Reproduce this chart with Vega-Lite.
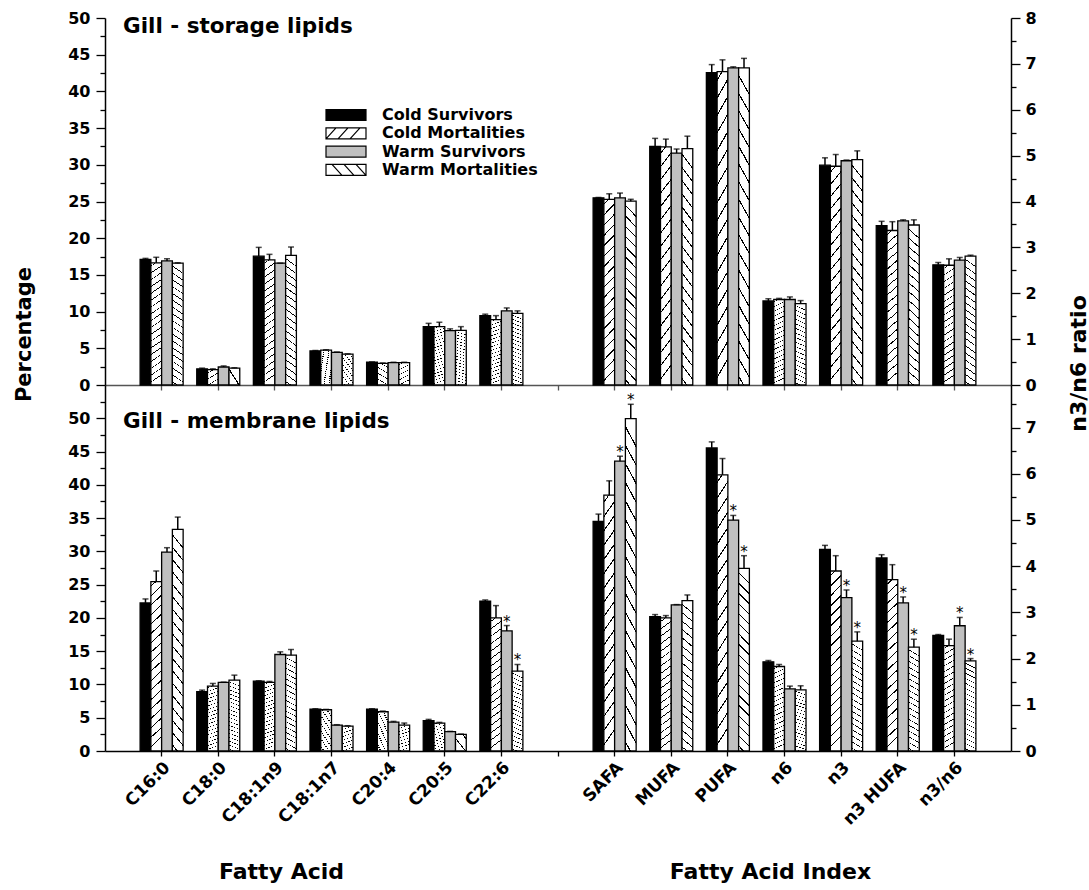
{
"$schema":"https://vega.github.io/schema/vega-lite/v6.json",
"padding":{"left":13,"top":10,"right":0,"bottom":5},
"config":{
 "font":"DejaVu Sans",
 "view":{"stroke":null},
 "axis":{"labelFont":"DejaVu Sans","labelFontWeight":"bold","labelFontSize":16,"labelColor":"#000","titleFont":"DejaVu Sans","titleFontWeight":"bold","titleColor":"#000","domainColor":"#000","domainWidth":1.5,"tickColor":"#000","tickWidth":1.3,"grid":false,"labelOverlap":false},
 "title":{"font":"DejaVu Sans","fontSize":21.5,"fontWeight":"bold","color":"#000","anchor":"start","frame":"group"}
},
"data":{"values":[
{"panel":"storage","cat":"C16:0","group":"Cold Survivors","mean":17.1,"hi":17.25,"sig":""},
{"panel":"storage","cat":"C16:0","group":"Cold Mortalities","mean":16.65,"hi":17.4,"sig":""},
{"panel":"storage","cat":"C16:0","group":"Warm Survivors","mean":16.9,"hi":17.2,"sig":""},
{"panel":"storage","cat":"C16:0","group":"Warm Mortalities","mean":16.6,"hi":16.65,"sig":""},
{"panel":"storage","cat":"C18:0","group":"Cold Survivors","mean":2.2,"hi":2.3,"sig":""},
{"panel":"storage","cat":"C18:0","group":"Cold Mortalities","mean":2.1,"hi":2.2,"sig":""},
{"panel":"storage","cat":"C18:0","group":"Warm Survivors","mean":2.45,"hi":2.6,"sig":""},
{"panel":"storage","cat":"C18:0","group":"Warm Mortalities","mean":2.3,"hi":2.35,"sig":""},
{"panel":"storage","cat":"C18:1n9","group":"Cold Survivors","mean":17.55,"hi":18.75,"sig":""},
{"panel":"storage","cat":"C18:1n9","group":"Cold Mortalities","mean":17.05,"hi":17.8,"sig":""},
{"panel":"storage","cat":"C18:1n9","group":"Warm Survivors","mean":16.6,"hi":16.6,"sig":""},
{"panel":"storage","cat":"C18:1n9","group":"Warm Mortalities","mean":17.65,"hi":18.8,"sig":""},
{"panel":"storage","cat":"C18:1n7","group":"Cold Survivors","mean":4.65,"hi":4.7,"sig":""},
{"panel":"storage","cat":"C18:1n7","group":"Cold Mortalities","mean":4.75,"hi":4.8,"sig":""},
{"panel":"storage","cat":"C18:1n7","group":"Warm Survivors","mean":4.45,"hi":4.5,"sig":""},
{"panel":"storage","cat":"C18:1n7","group":"Warm Mortalities","mean":4.2,"hi":4.25,"sig":""},
{"panel":"storage","cat":"C20:4","group":"Cold Survivors","mean":3.1,"hi":3.15,"sig":""},
{"panel":"storage","cat":"C20:4","group":"Cold Mortalities","mean":2.95,"hi":3.0,"sig":""},
{"panel":"storage","cat":"C20:4","group":"Warm Survivors","mean":3.05,"hi":3.1,"sig":""},
{"panel":"storage","cat":"C20:4","group":"Warm Mortalities","mean":3.05,"hi":3.1,"sig":""},
{"panel":"storage","cat":"C20:5","group":"Cold Survivors","mean":7.95,"hi":8.4,"sig":""},
{"panel":"storage","cat":"C20:5","group":"Cold Mortalities","mean":7.95,"hi":8.55,"sig":""},
{"panel":"storage","cat":"C20:5","group":"Warm Survivors","mean":7.4,"hi":7.65,"sig":""},
{"panel":"storage","cat":"C20:5","group":"Warm Mortalities","mean":7.45,"hi":7.95,"sig":""},
{"panel":"storage","cat":"C22:6","group":"Cold Survivors","mean":9.45,"hi":9.65,"sig":""},
{"panel":"storage","cat":"C22:6","group":"Cold Mortalities","mean":8.9,"hi":9.45,"sig":""},
{"panel":"storage","cat":"C22:6","group":"Warm Survivors","mean":10.1,"hi":10.5,"sig":""},
{"panel":"storage","cat":"C22:6","group":"Warm Mortalities","mean":9.75,"hi":10.1,"sig":""},
{"panel":"storage","cat":"SAFA","group":"Cold Survivors","mean":25.5,"hi":25.55,"sig":""},
{"panel":"storage","cat":"SAFA","group":"Cold Mortalities","mean":25.3,"hi":26.05,"sig":""},
{"panel":"storage","cat":"SAFA","group":"Warm Survivors","mean":25.5,"hi":26.15,"sig":""},
{"panel":"storage","cat":"SAFA","group":"Warm Mortalities","mean":25.05,"hi":25.3,"sig":""},
{"panel":"storage","cat":"MUFA","group":"Cold Survivors","mean":32.5,"hi":33.6,"sig":""},
{"panel":"storage","cat":"MUFA","group":"Cold Mortalities","mean":32.45,"hi":33.5,"sig":""},
{"panel":"storage","cat":"MUFA","group":"Warm Survivors","mean":31.6,"hi":32.15,"sig":""},
{"panel":"storage","cat":"MUFA","group":"Warm Mortalities","mean":32.2,"hi":33.9,"sig":""},
{"panel":"storage","cat":"PUFA","group":"Cold Survivors","mean":42.55,"hi":43.65,"sig":""},
{"panel":"storage","cat":"PUFA","group":"Cold Mortalities","mean":42.7,"hi":44.3,"sig":""},
{"panel":"storage","cat":"PUFA","group":"Warm Survivors","mean":43.2,"hi":43.35,"sig":""},
{"panel":"storage","cat":"PUFA","group":"Warm Mortalities","mean":43.2,"hi":44.5,"sig":""},
{"panel":"storage","cat":"n6","group":"Cold Survivors","mean":11.45,"hi":11.75,"sig":""},
{"panel":"storage","cat":"n6","group":"Cold Mortalities","mean":11.65,"hi":11.8,"sig":""},
{"panel":"storage","cat":"n6","group":"Warm Survivors","mean":11.65,"hi":12.0,"sig":""},
{"panel":"storage","cat":"n6","group":"Warm Mortalities","mean":11.1,"hi":11.5,"sig":""},
{"panel":"storage","cat":"n3","group":"Cold Survivors","mean":29.95,"hi":30.95,"sig":""},
{"panel":"storage","cat":"n3","group":"Cold Mortalities","mean":29.8,"hi":31.4,"sig":""},
{"panel":"storage","cat":"n3","group":"Warm Survivors","mean":30.55,"hi":30.65,"sig":""},
{"panel":"storage","cat":"n3","group":"Warm Mortalities","mean":30.7,"hi":31.9,"sig":""},
{"panel":"storage","cat":"n3 HUFA","group":"Cold Survivors","mean":21.7,"hi":22.3,"sig":""},
{"panel":"storage","cat":"n3 HUFA","group":"Cold Mortalities","mean":21.05,"hi":22.25,"sig":""},
{"panel":"storage","cat":"n3 HUFA","group":"Warm Survivors","mean":22.35,"hi":22.5,"sig":""},
{"panel":"storage","cat":"n3 HUFA","group":"Warm Mortalities","mean":21.8,"hi":22.5,"sig":""},
{"panel":"storage","cat":"n3/n6","group":"Cold Survivors","mean":2.62,"hi":2.67,"sig":""},
{"panel":"storage","cat":"n3/n6","group":"Cold Mortalities","mean":2.61,"hi":2.75,"sig":""},
{"panel":"storage","cat":"n3/n6","group":"Warm Survivors","mean":2.72,"hi":2.78,"sig":""},
{"panel":"storage","cat":"n3/n6","group":"Warm Mortalities","mean":2.81,"hi":2.83,"sig":""},
{"panel":"membrane","cat":"C16:0","group":"Cold Survivors","mean":22.25,"hi":22.85,"sig":""},
{"panel":"membrane","cat":"C16:0","group":"Cold Mortalities","mean":25.45,"hi":27.05,"sig":""},
{"panel":"membrane","cat":"C16:0","group":"Warm Survivors","mean":29.9,"hi":30.55,"sig":""},
{"panel":"membrane","cat":"C16:0","group":"Warm Mortalities","mean":33.3,"hi":35.15,"sig":""},
{"panel":"membrane","cat":"C18:0","group":"Cold Survivors","mean":8.9,"hi":9.15,"sig":""},
{"panel":"membrane","cat":"C18:0","group":"Cold Mortalities","mean":9.75,"hi":10.15,"sig":""},
{"panel":"membrane","cat":"C18:0","group":"Warm Survivors","mean":10.3,"hi":10.35,"sig":""},
{"panel":"membrane","cat":"C18:0","group":"Warm Mortalities","mean":10.65,"hi":11.4,"sig":""},
{"panel":"membrane","cat":"C18:1n9","group":"Cold Survivors","mean":10.5,"hi":10.55,"sig":""},
{"panel":"membrane","cat":"C18:1n9","group":"Cold Mortalities","mean":10.3,"hi":10.45,"sig":""},
{"panel":"membrane","cat":"C18:1n9","group":"Warm Survivors","mean":14.5,"hi":14.9,"sig":""},
{"panel":"membrane","cat":"C18:1n9","group":"Warm Mortalities","mean":14.4,"hi":15.25,"sig":""},
{"panel":"membrane","cat":"C18:1n7","group":"Cold Survivors","mean":6.3,"hi":6.35,"sig":""},
{"panel":"membrane","cat":"C18:1n7","group":"Cold Mortalities","mean":6.2,"hi":6.25,"sig":""},
{"panel":"membrane","cat":"C18:1n7","group":"Warm Survivors","mean":3.9,"hi":3.95,"sig":""},
{"panel":"membrane","cat":"C18:1n7","group":"Warm Mortalities","mean":3.75,"hi":3.8,"sig":""},
{"panel":"membrane","cat":"C20:4","group":"Cold Survivors","mean":6.3,"hi":6.35,"sig":""},
{"panel":"membrane","cat":"C20:4","group":"Cold Mortalities","mean":5.9,"hi":6.0,"sig":""},
{"panel":"membrane","cat":"C20:4","group":"Warm Survivors","mean":4.35,"hi":4.45,"sig":""},
{"panel":"membrane","cat":"C20:4","group":"Warm Mortalities","mean":3.9,"hi":4.2,"sig":""},
{"panel":"membrane","cat":"C20:5","group":"Cold Survivors","mean":4.55,"hi":4.75,"sig":""},
{"panel":"membrane","cat":"C20:5","group":"Cold Mortalities","mean":4.2,"hi":4.3,"sig":""},
{"panel":"membrane","cat":"C20:5","group":"Warm Survivors","mean":2.9,"hi":2.95,"sig":""},
{"panel":"membrane","cat":"C20:5","group":"Warm Mortalities","mean":2.5,"hi":2.55,"sig":""},
{"panel":"membrane","cat":"C22:6","group":"Cold Survivors","mean":22.5,"hi":22.7,"sig":""},
{"panel":"membrane","cat":"C22:6","group":"Cold Mortalities","mean":20.0,"hi":21.85,"sig":""},
{"panel":"membrane","cat":"C22:6","group":"Warm Survivors","mean":18.05,"hi":18.85,"sig":"*"},
{"panel":"membrane","cat":"C22:6","group":"Warm Mortalities","mean":12.0,"hi":13.0,"sig":"*"},
{"panel":"membrane","cat":"SAFA","group":"Cold Survivors","mean":34.5,"hi":35.6,"sig":""},
{"panel":"membrane","cat":"SAFA","group":"Cold Mortalities","mean":38.45,"hi":40.6,"sig":""},
{"panel":"membrane","cat":"SAFA","group":"Warm Survivors","mean":43.55,"hi":44.3,"sig":"*"},
{"panel":"membrane","cat":"SAFA","group":"Warm Mortalities","mean":49.95,"hi":52.1,"sig":"*"},
{"panel":"membrane","cat":"MUFA","group":"Cold Survivors","mean":20.2,"hi":20.5,"sig":""},
{"panel":"membrane","cat":"MUFA","group":"Cold Mortalities","mean":20.0,"hi":20.35,"sig":""},
{"panel":"membrane","cat":"MUFA","group":"Warm Survivors","mean":21.95,"hi":22.0,"sig":""},
{"panel":"membrane","cat":"MUFA","group":"Warm Mortalities","mean":22.6,"hi":23.45,"sig":""},
{"panel":"membrane","cat":"PUFA","group":"Cold Survivors","mean":45.55,"hi":46.45,"sig":""},
{"panel":"membrane","cat":"PUFA","group":"Cold Mortalities","mean":41.5,"hi":43.95,"sig":""},
{"panel":"membrane","cat":"PUFA","group":"Warm Survivors","mean":34.7,"hi":35.4,"sig":"*"},
{"panel":"membrane","cat":"PUFA","group":"Warm Mortalities","mean":27.45,"hi":29.35,"sig":"*"},
{"panel":"membrane","cat":"n6","group":"Cold Survivors","mean":13.4,"hi":13.6,"sig":""},
{"panel":"membrane","cat":"n6","group":"Cold Mortalities","mean":12.7,"hi":13.0,"sig":""},
{"panel":"membrane","cat":"n6","group":"Warm Survivors","mean":9.35,"hi":9.75,"sig":""},
{"panel":"membrane","cat":"n6","group":"Warm Mortalities","mean":9.2,"hi":9.8,"sig":""},
{"panel":"membrane","cat":"n3","group":"Cold Survivors","mean":30.3,"hi":30.9,"sig":""},
{"panel":"membrane","cat":"n3","group":"Cold Mortalities","mean":27.05,"hi":29.35,"sig":""},
{"panel":"membrane","cat":"n3","group":"Warm Survivors","mean":23.05,"hi":24.2,"sig":"*"},
{"panel":"membrane","cat":"n3","group":"Warm Mortalities","mean":16.5,"hi":17.9,"sig":"*"},
{"panel":"membrane","cat":"n3 HUFA","group":"Cold Survivors","mean":29.0,"hi":29.5,"sig":""},
{"panel":"membrane","cat":"n3 HUFA","group":"Cold Mortalities","mean":25.75,"hi":28.0,"sig":""},
{"panel":"membrane","cat":"n3 HUFA","group":"Warm Survivors","mean":22.25,"hi":23.15,"sig":"*"},
{"panel":"membrane","cat":"n3 HUFA","group":"Warm Mortalities","mean":15.6,"hi":16.8,"sig":"*"},
{"panel":"membrane","cat":"n3/n6","group":"Cold Survivors","mean":2.5,"hi":2.52,"sig":""},
{"panel":"membrane","cat":"n3/n6","group":"Cold Mortalities","mean":2.28,"hi":2.42,"sig":""},
{"panel":"membrane","cat":"n3/n6","group":"Warm Survivors","mean":2.71,"hi":2.89,"sig":"*"},
{"panel":"membrane","cat":"n3/n6","group":"Warm Mortalities","mean":1.95,"hi":2.0,"sig":"*"}
]},
"spacing":0,
"bounds":"flush",
"resolve":{"legend":{"fill":"independent","shape":"independent","stroke":"independent"}},
"vconcat":[
{
 "width":906,"height":367,
 "title":{"text":"Gill - storage lipids","offset":-27,"dx":18,"baseline":"top"},
 "transform":[{"filter":"datum.panel === 'storage'"}],
 "encoding":{
  "x":{"field":"cat","type":"nominal","scale":{"domain":["C16:0","C18:0","C18:1n9","C18:1n7","C20:4","C20:5","C22:6"," ","SAFA","MUFA","PUFA","n6","n3","n3 HUFA","n3/n6"],"paddingInner":0.24,"paddingOuter":0.62},"axis":{"labels":false,"tickSize":5,"domainColor":"#555555","tickColor":"#555555","title":null,"bandPosition":0.5}},
  "xOffset":{"field":"group","type":"nominal","scale":{"domain":["Cold Survivors","Cold Mortalities","Warm Survivors","Warm Mortalities"],"paddingInner":0,"paddingOuter":0}}
 },
 "layer":[
  {"transform":[{"filter":"datum.cat !== 'n3/n6'"}],
   "layer":[
    {"mark":{"type":"bar","stroke":"#000","strokeWidth":1.3},
     "encoding":{
      "y":{"field":"mean","type":"quantitative","scale":{"domain":[0,50],"nice":false},"axis":{"orient":"left","values":[0,10,20,30,40,50],"tickSize":9,"labelPadding":6,"title":"Percentage","titleFontSize":21,"titleAngle":-90,"titleX":-81,"titleY":316,"titleAlign":"center","titleBaseline":"middle"}},
      "fill":{"condition":[{"test":"datum.group === 'Cold Survivors'","value":"#000000"},{"test":"datum.group === 'Cold Mortalities'","value":{"gradient":"linear","x1":0,"y1":0,"x2":0.06,"y2":1,"stops":[{"offset":0,"color":"#fff"},{"offset":0.024,"color":"#fff"},{"offset":0.024,"color":"#000"},{"offset":0.031,"color":"#000"},{"offset":0.031,"color":"#fff"},{"offset":0.080,"color":"#fff"},{"offset":0.080,"color":"#000"},{"offset":0.087,"color":"#000"},{"offset":0.087,"color":"#fff"},{"offset":0.135,"color":"#fff"},{"offset":0.135,"color":"#000"},{"offset":0.142,"color":"#000"},{"offset":0.142,"color":"#fff"},{"offset":0.191,"color":"#fff"},{"offset":0.191,"color":"#000"},{"offset":0.198,"color":"#000"},{"offset":0.198,"color":"#fff"},{"offset":0.246,"color":"#fff"},{"offset":0.246,"color":"#000"},{"offset":0.254,"color":"#000"},{"offset":0.254,"color":"#fff"},{"offset":0.302,"color":"#fff"},{"offset":0.302,"color":"#000"},{"offset":0.309,"color":"#000"},{"offset":0.309,"color":"#fff"},{"offset":0.358,"color":"#fff"},{"offset":0.358,"color":"#000"},{"offset":0.365,"color":"#000"},{"offset":0.365,"color":"#fff"},{"offset":0.413,"color":"#fff"},{"offset":0.413,"color":"#000"},{"offset":0.420,"color":"#000"},{"offset":0.420,"color":"#fff"},{"offset":0.469,"color":"#fff"},{"offset":0.469,"color":"#000"},{"offset":0.476,"color":"#000"},{"offset":0.476,"color":"#fff"},{"offset":0.524,"color":"#fff"},{"offset":0.524,"color":"#000"},{"offset":0.531,"color":"#000"},{"offset":0.531,"color":"#fff"},{"offset":0.580,"color":"#fff"},{"offset":0.580,"color":"#000"},{"offset":0.587,"color":"#000"},{"offset":0.587,"color":"#fff"},{"offset":0.635,"color":"#fff"},{"offset":0.635,"color":"#000"},{"offset":0.642,"color":"#000"},{"offset":0.642,"color":"#fff"},{"offset":0.691,"color":"#fff"},{"offset":0.691,"color":"#000"},{"offset":0.698,"color":"#000"},{"offset":0.698,"color":"#fff"},{"offset":0.746,"color":"#fff"},{"offset":0.746,"color":"#000"},{"offset":0.754,"color":"#000"},{"offset":0.754,"color":"#fff"},{"offset":0.802,"color":"#fff"},{"offset":0.802,"color":"#000"},{"offset":0.809,"color":"#000"},{"offset":0.809,"color":"#fff"},{"offset":0.858,"color":"#fff"},{"offset":0.858,"color":"#000"},{"offset":0.865,"color":"#000"},{"offset":0.865,"color":"#fff"},{"offset":0.913,"color":"#fff"},{"offset":0.913,"color":"#000"},{"offset":0.920,"color":"#000"},{"offset":0.920,"color":"#fff"},{"offset":0.969,"color":"#fff"},{"offset":0.969,"color":"#000"},{"offset":0.976,"color":"#000"},{"offset":0.976,"color":"#fff"},{"offset":1,"color":"#fff"}]}},{"test":"datum.group === 'Warm Survivors'","value":"#c0c0c0"}],"value":{"gradient":"linear","x1":0.06,"y1":0,"x2":0,"y2":1,"stops":[{"offset":0,"color":"#fff"},{"offset":0.024,"color":"#fff"},{"offset":0.024,"color":"#000"},{"offset":0.031,"color":"#000"},{"offset":0.031,"color":"#fff"},{"offset":0.080,"color":"#fff"},{"offset":0.080,"color":"#000"},{"offset":0.087,"color":"#000"},{"offset":0.087,"color":"#fff"},{"offset":0.135,"color":"#fff"},{"offset":0.135,"color":"#000"},{"offset":0.142,"color":"#000"},{"offset":0.142,"color":"#fff"},{"offset":0.191,"color":"#fff"},{"offset":0.191,"color":"#000"},{"offset":0.198,"color":"#000"},{"offset":0.198,"color":"#fff"},{"offset":0.246,"color":"#fff"},{"offset":0.246,"color":"#000"},{"offset":0.254,"color":"#000"},{"offset":0.254,"color":"#fff"},{"offset":0.302,"color":"#fff"},{"offset":0.302,"color":"#000"},{"offset":0.309,"color":"#000"},{"offset":0.309,"color":"#fff"},{"offset":0.358,"color":"#fff"},{"offset":0.358,"color":"#000"},{"offset":0.365,"color":"#000"},{"offset":0.365,"color":"#fff"},{"offset":0.413,"color":"#fff"},{"offset":0.413,"color":"#000"},{"offset":0.420,"color":"#000"},{"offset":0.420,"color":"#fff"},{"offset":0.469,"color":"#fff"},{"offset":0.469,"color":"#000"},{"offset":0.476,"color":"#000"},{"offset":0.476,"color":"#fff"},{"offset":0.524,"color":"#fff"},{"offset":0.524,"color":"#000"},{"offset":0.531,"color":"#000"},{"offset":0.531,"color":"#fff"},{"offset":0.580,"color":"#fff"},{"offset":0.580,"color":"#000"},{"offset":0.587,"color":"#000"},{"offset":0.587,"color":"#fff"},{"offset":0.635,"color":"#fff"},{"offset":0.635,"color":"#000"},{"offset":0.642,"color":"#000"},{"offset":0.642,"color":"#fff"},{"offset":0.691,"color":"#fff"},{"offset":0.691,"color":"#000"},{"offset":0.698,"color":"#000"},{"offset":0.698,"color":"#fff"},{"offset":0.746,"color":"#fff"},{"offset":0.746,"color":"#000"},{"offset":0.754,"color":"#000"},{"offset":0.754,"color":"#fff"},{"offset":0.802,"color":"#fff"},{"offset":0.802,"color":"#000"},{"offset":0.809,"color":"#000"},{"offset":0.809,"color":"#fff"},{"offset":0.858,"color":"#fff"},{"offset":0.858,"color":"#000"},{"offset":0.865,"color":"#000"},{"offset":0.865,"color":"#fff"},{"offset":0.913,"color":"#fff"},{"offset":0.913,"color":"#000"},{"offset":0.920,"color":"#000"},{"offset":0.920,"color":"#fff"},{"offset":0.969,"color":"#fff"},{"offset":0.969,"color":"#000"},{"offset":0.976,"color":"#000"},{"offset":0.976,"color":"#fff"},{"offset":1,"color":"#fff"}]}}
     }},
    {"mark":{"type":"rule","color":"#000","strokeWidth":1.5},
     "encoding":{"y":{"field":"mean","type":"quantitative","scale":{"domain":[0,50],"nice":false}},"y2":{"field":"hi"}}},
    {"mark":{"type":"tick","color":"#000","size":6,"thickness":1.5,"orient":"horizontal"},
     "encoding":{"y":{"field":"hi","type":"quantitative","scale":{"domain":[0,50],"nice":false}}}}
   ]},
  {"transform":[{"filter":"datum.cat === 'n3/n6'"}],
   "layer":[
    {"mark":{"type":"bar","stroke":"#000","strokeWidth":1.3},
     "encoding":{
      "y":{"field":"mean","type":"quantitative","scale":{"domain":[0,8],"nice":false},"axis":{"orient":"right","values":[0,1,2,3,4,5,6,7,8],"tickSize":9,"labelPadding":5,"title":"n3/n6 ratio","titleFontSize":22,"titleAngle":-90,"titleX":67,"titleY":345,"titleAlign":"center","titleBaseline":"middle"}},
      "fill":{"condition":[{"test":"datum.group === 'Cold Survivors'","value":"#000000"},{"test":"datum.group === 'Cold Mortalities'","value":{"gradient":"linear","x1":0,"y1":0,"x2":0.06,"y2":1,"stops":[{"offset":0,"color":"#fff"},{"offset":0.024,"color":"#fff"},{"offset":0.024,"color":"#000"},{"offset":0.031,"color":"#000"},{"offset":0.031,"color":"#fff"},{"offset":0.080,"color":"#fff"},{"offset":0.080,"color":"#000"},{"offset":0.087,"color":"#000"},{"offset":0.087,"color":"#fff"},{"offset":0.135,"color":"#fff"},{"offset":0.135,"color":"#000"},{"offset":0.142,"color":"#000"},{"offset":0.142,"color":"#fff"},{"offset":0.191,"color":"#fff"},{"offset":0.191,"color":"#000"},{"offset":0.198,"color":"#000"},{"offset":0.198,"color":"#fff"},{"offset":0.246,"color":"#fff"},{"offset":0.246,"color":"#000"},{"offset":0.254,"color":"#000"},{"offset":0.254,"color":"#fff"},{"offset":0.302,"color":"#fff"},{"offset":0.302,"color":"#000"},{"offset":0.309,"color":"#000"},{"offset":0.309,"color":"#fff"},{"offset":0.358,"color":"#fff"},{"offset":0.358,"color":"#000"},{"offset":0.365,"color":"#000"},{"offset":0.365,"color":"#fff"},{"offset":0.413,"color":"#fff"},{"offset":0.413,"color":"#000"},{"offset":0.420,"color":"#000"},{"offset":0.420,"color":"#fff"},{"offset":0.469,"color":"#fff"},{"offset":0.469,"color":"#000"},{"offset":0.476,"color":"#000"},{"offset":0.476,"color":"#fff"},{"offset":0.524,"color":"#fff"},{"offset":0.524,"color":"#000"},{"offset":0.531,"color":"#000"},{"offset":0.531,"color":"#fff"},{"offset":0.580,"color":"#fff"},{"offset":0.580,"color":"#000"},{"offset":0.587,"color":"#000"},{"offset":0.587,"color":"#fff"},{"offset":0.635,"color":"#fff"},{"offset":0.635,"color":"#000"},{"offset":0.642,"color":"#000"},{"offset":0.642,"color":"#fff"},{"offset":0.691,"color":"#fff"},{"offset":0.691,"color":"#000"},{"offset":0.698,"color":"#000"},{"offset":0.698,"color":"#fff"},{"offset":0.746,"color":"#fff"},{"offset":0.746,"color":"#000"},{"offset":0.754,"color":"#000"},{"offset":0.754,"color":"#fff"},{"offset":0.802,"color":"#fff"},{"offset":0.802,"color":"#000"},{"offset":0.809,"color":"#000"},{"offset":0.809,"color":"#fff"},{"offset":0.858,"color":"#fff"},{"offset":0.858,"color":"#000"},{"offset":0.865,"color":"#000"},{"offset":0.865,"color":"#fff"},{"offset":0.913,"color":"#fff"},{"offset":0.913,"color":"#000"},{"offset":0.920,"color":"#000"},{"offset":0.920,"color":"#fff"},{"offset":0.969,"color":"#fff"},{"offset":0.969,"color":"#000"},{"offset":0.976,"color":"#000"},{"offset":0.976,"color":"#fff"},{"offset":1,"color":"#fff"}]}},{"test":"datum.group === 'Warm Survivors'","value":"#c0c0c0"}],"value":{"gradient":"linear","x1":0.06,"y1":0,"x2":0,"y2":1,"stops":[{"offset":0,"color":"#fff"},{"offset":0.024,"color":"#fff"},{"offset":0.024,"color":"#000"},{"offset":0.031,"color":"#000"},{"offset":0.031,"color":"#fff"},{"offset":0.080,"color":"#fff"},{"offset":0.080,"color":"#000"},{"offset":0.087,"color":"#000"},{"offset":0.087,"color":"#fff"},{"offset":0.135,"color":"#fff"},{"offset":0.135,"color":"#000"},{"offset":0.142,"color":"#000"},{"offset":0.142,"color":"#fff"},{"offset":0.191,"color":"#fff"},{"offset":0.191,"color":"#000"},{"offset":0.198,"color":"#000"},{"offset":0.198,"color":"#fff"},{"offset":0.246,"color":"#fff"},{"offset":0.246,"color":"#000"},{"offset":0.254,"color":"#000"},{"offset":0.254,"color":"#fff"},{"offset":0.302,"color":"#fff"},{"offset":0.302,"color":"#000"},{"offset":0.309,"color":"#000"},{"offset":0.309,"color":"#fff"},{"offset":0.358,"color":"#fff"},{"offset":0.358,"color":"#000"},{"offset":0.365,"color":"#000"},{"offset":0.365,"color":"#fff"},{"offset":0.413,"color":"#fff"},{"offset":0.413,"color":"#000"},{"offset":0.420,"color":"#000"},{"offset":0.420,"color":"#fff"},{"offset":0.469,"color":"#fff"},{"offset":0.469,"color":"#000"},{"offset":0.476,"color":"#000"},{"offset":0.476,"color":"#fff"},{"offset":0.524,"color":"#fff"},{"offset":0.524,"color":"#000"},{"offset":0.531,"color":"#000"},{"offset":0.531,"color":"#fff"},{"offset":0.580,"color":"#fff"},{"offset":0.580,"color":"#000"},{"offset":0.587,"color":"#000"},{"offset":0.587,"color":"#fff"},{"offset":0.635,"color":"#fff"},{"offset":0.635,"color":"#000"},{"offset":0.642,"color":"#000"},{"offset":0.642,"color":"#fff"},{"offset":0.691,"color":"#fff"},{"offset":0.691,"color":"#000"},{"offset":0.698,"color":"#000"},{"offset":0.698,"color":"#fff"},{"offset":0.746,"color":"#fff"},{"offset":0.746,"color":"#000"},{"offset":0.754,"color":"#000"},{"offset":0.754,"color":"#fff"},{"offset":0.802,"color":"#fff"},{"offset":0.802,"color":"#000"},{"offset":0.809,"color":"#000"},{"offset":0.809,"color":"#fff"},{"offset":0.858,"color":"#fff"},{"offset":0.858,"color":"#000"},{"offset":0.865,"color":"#000"},{"offset":0.865,"color":"#fff"},{"offset":0.913,"color":"#fff"},{"offset":0.913,"color":"#000"},{"offset":0.920,"color":"#000"},{"offset":0.920,"color":"#fff"},{"offset":0.969,"color":"#fff"},{"offset":0.969,"color":"#000"},{"offset":0.976,"color":"#000"},{"offset":0.976,"color":"#fff"},{"offset":1,"color":"#fff"}]}}
     }},
    {"mark":{"type":"rule","color":"#000","strokeWidth":1.5},
     "encoding":{"y":{"field":"mean","type":"quantitative","scale":{"domain":[0,8],"nice":false}},"y2":{"field":"hi"}}},
    {"mark":{"type":"tick","color":"#000","size":6,"thickness":1.5,"orient":"horizontal"},
     "encoding":{"y":{"field":"hi","type":"quantitative","scale":{"domain":[0,8],"nice":false}}}}
   ]},
  {"transform":[{"filter":"datum.cat !== 'n3/n6'"}],
   "mark":{"type":"point","filled":true,"size":0,"strokeWidth":1.2},
   "encoding":{
    "y":{"field":"mean","type":"quantitative","scale":{"domain":[0,50],"nice":false},"axis":{"orient":"left","values":[5,15,25,35,45],"domain":false,"tickSize":9,"labelPadding":6,"title":null}},
    "fill":{"field":"group","type":"nominal","scale":{"domain":["Cold Survivors","Cold Mortalities","Warm Survivors","Warm Mortalities"],"range":["#000000","#ffffff","#c0c0c0","#ffffff"]},"legend":{"title":null,"orient":"none","legendX":231,"legendY":87,"symbolSize":324,"labelFont":"DejaVu Sans","labelFontWeight":"bold","labelFontSize":16,"labelColor":"#000","labelOffset":26,"rowPadding":0.3,"symbolStrokeWidth":1.2,"symbolOpacity":1,"padding":0}},
    "stroke":{"field":"group","type":"nominal","scale":{"domain":["Cold Survivors","Cold Mortalities","Warm Survivors","Warm Mortalities"],"range":["#000000","#000000","#000000","#000000"]},"legend":{"title":null,"orient":"none","legendX":231,"legendY":87,"symbolSize":324,"labelFont":"DejaVu Sans","labelFontWeight":"bold","labelFontSize":16,"labelColor":"#000","labelOffset":26,"rowPadding":0.3,"symbolStrokeWidth":1.2,"symbolOpacity":1,"padding":0}},
    "shape":{"field":"group","type":"nominal","scale":{"domain":["Cold Survivors","Cold Mortalities","Warm Survivors","Warm Mortalities"],"range":["M-2.222,-0.611H2.222V0.611H-2.222Z","M-2.222,-0.611H2.222V0.611H-2.222ZM-2.222,0.611L-1.111,-0.611M-0.889,0.611L0.222,-0.611M0.444,0.611L1.556,-0.611","M-2.222,-0.611H2.222V0.611H-2.222Z","M-2.222,-0.611H2.222V0.611H-2.222ZM-1.556,-0.611L-0.444,0.611M-0.222,-0.611L0.889,0.611M1.111,-0.611L2.222,0.611"]},"legend":{"title":null,"orient":"none","legendX":231,"legendY":87,"symbolSize":324,"labelFont":"DejaVu Sans","labelFontWeight":"bold","labelFontSize":16,"labelColor":"#000","labelOffset":26,"rowPadding":0.3,"symbolStrokeWidth":1.2,"symbolOpacity":1,"padding":0}}
   }},
  {"transform":[{"filter":"datum.cat === 'n3/n6'"}],
   "mark":{"type":"point","size":0,"opacity":0},
   "encoding":{
    "y":{"field":"mean","type":"quantitative","scale":{"domain":[0,8],"nice":false},"axis":{"orient":"right","values":[0.5,1.5,2.5,3.5,4.5,5.5,6.5,7.5],"labels":false,"domain":false,"tickSize":5,"title":null}}
   }},
  {"transform":[{"filter":"datum.cat !== 'n3/n6'"}],
   "mark":{"type":"point","size":0,"opacity":0},
   "encoding":{
    "y":{"field":"mean","type":"quantitative","scale":{"domain":[0,50],"nice":false},"axis":{"orient":"left","values":[2.5,7.5,12.5,17.5,22.5,27.5,32.5,37.5,42.5,47.5],"labels":false,"domain":false,"tickSize":5,"title":null}}
   }}
 ],
 "resolve":{"scale":{"y":"independent"},"axis":{"y":"independent"}}
},
{
 "width":906,"height":366,
 "title":{"text":"Gill - membrane lipids","offset":-47,"dx":18,"baseline":"top"},
 "transform":[{"filter":"datum.panel === 'membrane'"}],
 "layer":[
  {"transform":[{"filter":"datum.cat !== 'n3/n6'"}],
   "encoding":{
    "x":{"field":"cat","type":"nominal","scale":{"domain":["C16:0","C18:0","C18:1n9","C18:1n7","C20:4","C20:5","C22:6"," ","SAFA","MUFA","PUFA","n6","n3","n3 HUFA","n3/n6"],"paddingInner":0.24,"paddingOuter":0.62},"axis":{"orient":"bottom","labelAngle":-45,"labelFontSize":17,"tickSize":5,"labelPadding":3,"bandPosition":0.5,"title":"Fatty Acid","titleFontSize":22,"titleX":176,"titleY":120,"titleAlign":"center","titleBaseline":"middle"}},
    "xOffset":{"field":"group","type":"nominal","scale":{"domain":["Cold Survivors","Cold Mortalities","Warm Survivors","Warm Mortalities"],"paddingInner":0,"paddingOuter":0}}
   },
   "layer":[
    {"mark":{"type":"bar","stroke":"#000","strokeWidth":1.3},
     "encoding":{
      "y":{"field":"mean","type":"quantitative","scale":{"domain":[0,55],"nice":false},"axis":{"orient":"left","values":[0,10,20,30,40,50],"tickSize":9,"labelPadding":6,"title":null}},
      "fill":{"condition":[{"test":"datum.group === 'Cold Survivors'","value":"#000000"},{"test":"datum.group === 'Cold Mortalities'","value":{"gradient":"linear","x1":0,"y1":0,"x2":0.06,"y2":1,"stops":[{"offset":0,"color":"#fff"},{"offset":0.024,"color":"#fff"},{"offset":0.024,"color":"#000"},{"offset":0.031,"color":"#000"},{"offset":0.031,"color":"#fff"},{"offset":0.080,"color":"#fff"},{"offset":0.080,"color":"#000"},{"offset":0.087,"color":"#000"},{"offset":0.087,"color":"#fff"},{"offset":0.135,"color":"#fff"},{"offset":0.135,"color":"#000"},{"offset":0.142,"color":"#000"},{"offset":0.142,"color":"#fff"},{"offset":0.191,"color":"#fff"},{"offset":0.191,"color":"#000"},{"offset":0.198,"color":"#000"},{"offset":0.198,"color":"#fff"},{"offset":0.246,"color":"#fff"},{"offset":0.246,"color":"#000"},{"offset":0.254,"color":"#000"},{"offset":0.254,"color":"#fff"},{"offset":0.302,"color":"#fff"},{"offset":0.302,"color":"#000"},{"offset":0.309,"color":"#000"},{"offset":0.309,"color":"#fff"},{"offset":0.358,"color":"#fff"},{"offset":0.358,"color":"#000"},{"offset":0.365,"color":"#000"},{"offset":0.365,"color":"#fff"},{"offset":0.413,"color":"#fff"},{"offset":0.413,"color":"#000"},{"offset":0.420,"color":"#000"},{"offset":0.420,"color":"#fff"},{"offset":0.469,"color":"#fff"},{"offset":0.469,"color":"#000"},{"offset":0.476,"color":"#000"},{"offset":0.476,"color":"#fff"},{"offset":0.524,"color":"#fff"},{"offset":0.524,"color":"#000"},{"offset":0.531,"color":"#000"},{"offset":0.531,"color":"#fff"},{"offset":0.580,"color":"#fff"},{"offset":0.580,"color":"#000"},{"offset":0.587,"color":"#000"},{"offset":0.587,"color":"#fff"},{"offset":0.635,"color":"#fff"},{"offset":0.635,"color":"#000"},{"offset":0.642,"color":"#000"},{"offset":0.642,"color":"#fff"},{"offset":0.691,"color":"#fff"},{"offset":0.691,"color":"#000"},{"offset":0.698,"color":"#000"},{"offset":0.698,"color":"#fff"},{"offset":0.746,"color":"#fff"},{"offset":0.746,"color":"#000"},{"offset":0.754,"color":"#000"},{"offset":0.754,"color":"#fff"},{"offset":0.802,"color":"#fff"},{"offset":0.802,"color":"#000"},{"offset":0.809,"color":"#000"},{"offset":0.809,"color":"#fff"},{"offset":0.858,"color":"#fff"},{"offset":0.858,"color":"#000"},{"offset":0.865,"color":"#000"},{"offset":0.865,"color":"#fff"},{"offset":0.913,"color":"#fff"},{"offset":0.913,"color":"#000"},{"offset":0.920,"color":"#000"},{"offset":0.920,"color":"#fff"},{"offset":0.969,"color":"#fff"},{"offset":0.969,"color":"#000"},{"offset":0.976,"color":"#000"},{"offset":0.976,"color":"#fff"},{"offset":1,"color":"#fff"}]}},{"test":"datum.group === 'Warm Survivors'","value":"#c0c0c0"}],"value":{"gradient":"linear","x1":0.06,"y1":0,"x2":0,"y2":1,"stops":[{"offset":0,"color":"#fff"},{"offset":0.024,"color":"#fff"},{"offset":0.024,"color":"#000"},{"offset":0.031,"color":"#000"},{"offset":0.031,"color":"#fff"},{"offset":0.080,"color":"#fff"},{"offset":0.080,"color":"#000"},{"offset":0.087,"color":"#000"},{"offset":0.087,"color":"#fff"},{"offset":0.135,"color":"#fff"},{"offset":0.135,"color":"#000"},{"offset":0.142,"color":"#000"},{"offset":0.142,"color":"#fff"},{"offset":0.191,"color":"#fff"},{"offset":0.191,"color":"#000"},{"offset":0.198,"color":"#000"},{"offset":0.198,"color":"#fff"},{"offset":0.246,"color":"#fff"},{"offset":0.246,"color":"#000"},{"offset":0.254,"color":"#000"},{"offset":0.254,"color":"#fff"},{"offset":0.302,"color":"#fff"},{"offset":0.302,"color":"#000"},{"offset":0.309,"color":"#000"},{"offset":0.309,"color":"#fff"},{"offset":0.358,"color":"#fff"},{"offset":0.358,"color":"#000"},{"offset":0.365,"color":"#000"},{"offset":0.365,"color":"#fff"},{"offset":0.413,"color":"#fff"},{"offset":0.413,"color":"#000"},{"offset":0.420,"color":"#000"},{"offset":0.420,"color":"#fff"},{"offset":0.469,"color":"#fff"},{"offset":0.469,"color":"#000"},{"offset":0.476,"color":"#000"},{"offset":0.476,"color":"#fff"},{"offset":0.524,"color":"#fff"},{"offset":0.524,"color":"#000"},{"offset":0.531,"color":"#000"},{"offset":0.531,"color":"#fff"},{"offset":0.580,"color":"#fff"},{"offset":0.580,"color":"#000"},{"offset":0.587,"color":"#000"},{"offset":0.587,"color":"#fff"},{"offset":0.635,"color":"#fff"},{"offset":0.635,"color":"#000"},{"offset":0.642,"color":"#000"},{"offset":0.642,"color":"#fff"},{"offset":0.691,"color":"#fff"},{"offset":0.691,"color":"#000"},{"offset":0.698,"color":"#000"},{"offset":0.698,"color":"#fff"},{"offset":0.746,"color":"#fff"},{"offset":0.746,"color":"#000"},{"offset":0.754,"color":"#000"},{"offset":0.754,"color":"#fff"},{"offset":0.802,"color":"#fff"},{"offset":0.802,"color":"#000"},{"offset":0.809,"color":"#000"},{"offset":0.809,"color":"#fff"},{"offset":0.858,"color":"#fff"},{"offset":0.858,"color":"#000"},{"offset":0.865,"color":"#000"},{"offset":0.865,"color":"#fff"},{"offset":0.913,"color":"#fff"},{"offset":0.913,"color":"#000"},{"offset":0.920,"color":"#000"},{"offset":0.920,"color":"#fff"},{"offset":0.969,"color":"#fff"},{"offset":0.969,"color":"#000"},{"offset":0.976,"color":"#000"},{"offset":0.976,"color":"#fff"},{"offset":1,"color":"#fff"}]}}
     }},
    {"mark":{"type":"rule","color":"#000","strokeWidth":1.5},
     "encoding":{"y":{"field":"mean","type":"quantitative","scale":{"domain":[0,55],"nice":false}},"y2":{"field":"hi"}}},
    {"mark":{"type":"tick","color":"#000","size":6,"thickness":1.5,"orient":"horizontal"},
     "encoding":{"y":{"field":"hi","type":"quantitative","scale":{"domain":[0,55],"nice":false}}}},
    {"mark":{"type":"text","fontSize":15,"baseline":"alphabetic","dy":1,"color":"#000"},
     "encoding":{"y":{"field":"hi","type":"quantitative","scale":{"domain":[0,55],"nice":false}},"text":{"field":"sig"}}}
   ]},
  {"transform":[{"filter":"datum.cat === 'n3/n6'"}],
   "encoding":{
    "x":{"field":"cat","type":"nominal","scale":{"domain":["C16:0","C18:0","C18:1n9","C18:1n7","C20:4","C20:5","C22:6"," ","SAFA","MUFA","PUFA","n6","n3","n3 HUFA","n3/n6"],"paddingInner":0.24,"paddingOuter":0.62},"axis":{"orient":"bottom","labels":false,"ticks":false,"domain":false,"title":"Fatty Acid Index","titleFontSize":22,"titleX":665,"titleY":120,"titleAlign":"center","titleBaseline":"middle"}},
    "xOffset":{"field":"group","type":"nominal","scale":{"domain":["Cold Survivors","Cold Mortalities","Warm Survivors","Warm Mortalities"],"paddingInner":0,"paddingOuter":0}}
   },
   "layer":[
    {"mark":{"type":"bar","stroke":"#000","strokeWidth":1.3},
     "encoding":{
      "y":{"field":"mean","type":"quantitative","scale":{"domain":[0,7.92],"nice":false},"axis":{"orient":"right","values":[0,1,2,3,4,5,6,7],"tickSize":9,"labelPadding":5,"title":null}},
      "fill":{"condition":[{"test":"datum.group === 'Cold Survivors'","value":"#000000"},{"test":"datum.group === 'Cold Mortalities'","value":{"gradient":"linear","x1":0,"y1":0,"x2":0.06,"y2":1,"stops":[{"offset":0,"color":"#fff"},{"offset":0.024,"color":"#fff"},{"offset":0.024,"color":"#000"},{"offset":0.031,"color":"#000"},{"offset":0.031,"color":"#fff"},{"offset":0.080,"color":"#fff"},{"offset":0.080,"color":"#000"},{"offset":0.087,"color":"#000"},{"offset":0.087,"color":"#fff"},{"offset":0.135,"color":"#fff"},{"offset":0.135,"color":"#000"},{"offset":0.142,"color":"#000"},{"offset":0.142,"color":"#fff"},{"offset":0.191,"color":"#fff"},{"offset":0.191,"color":"#000"},{"offset":0.198,"color":"#000"},{"offset":0.198,"color":"#fff"},{"offset":0.246,"color":"#fff"},{"offset":0.246,"color":"#000"},{"offset":0.254,"color":"#000"},{"offset":0.254,"color":"#fff"},{"offset":0.302,"color":"#fff"},{"offset":0.302,"color":"#000"},{"offset":0.309,"color":"#000"},{"offset":0.309,"color":"#fff"},{"offset":0.358,"color":"#fff"},{"offset":0.358,"color":"#000"},{"offset":0.365,"color":"#000"},{"offset":0.365,"color":"#fff"},{"offset":0.413,"color":"#fff"},{"offset":0.413,"color":"#000"},{"offset":0.420,"color":"#000"},{"offset":0.420,"color":"#fff"},{"offset":0.469,"color":"#fff"},{"offset":0.469,"color":"#000"},{"offset":0.476,"color":"#000"},{"offset":0.476,"color":"#fff"},{"offset":0.524,"color":"#fff"},{"offset":0.524,"color":"#000"},{"offset":0.531,"color":"#000"},{"offset":0.531,"color":"#fff"},{"offset":0.580,"color":"#fff"},{"offset":0.580,"color":"#000"},{"offset":0.587,"color":"#000"},{"offset":0.587,"color":"#fff"},{"offset":0.635,"color":"#fff"},{"offset":0.635,"color":"#000"},{"offset":0.642,"color":"#000"},{"offset":0.642,"color":"#fff"},{"offset":0.691,"color":"#fff"},{"offset":0.691,"color":"#000"},{"offset":0.698,"color":"#000"},{"offset":0.698,"color":"#fff"},{"offset":0.746,"color":"#fff"},{"offset":0.746,"color":"#000"},{"offset":0.754,"color":"#000"},{"offset":0.754,"color":"#fff"},{"offset":0.802,"color":"#fff"},{"offset":0.802,"color":"#000"},{"offset":0.809,"color":"#000"},{"offset":0.809,"color":"#fff"},{"offset":0.858,"color":"#fff"},{"offset":0.858,"color":"#000"},{"offset":0.865,"color":"#000"},{"offset":0.865,"color":"#fff"},{"offset":0.913,"color":"#fff"},{"offset":0.913,"color":"#000"},{"offset":0.920,"color":"#000"},{"offset":0.920,"color":"#fff"},{"offset":0.969,"color":"#fff"},{"offset":0.969,"color":"#000"},{"offset":0.976,"color":"#000"},{"offset":0.976,"color":"#fff"},{"offset":1,"color":"#fff"}]}},{"test":"datum.group === 'Warm Survivors'","value":"#c0c0c0"}],"value":{"gradient":"linear","x1":0.06,"y1":0,"x2":0,"y2":1,"stops":[{"offset":0,"color":"#fff"},{"offset":0.024,"color":"#fff"},{"offset":0.024,"color":"#000"},{"offset":0.031,"color":"#000"},{"offset":0.031,"color":"#fff"},{"offset":0.080,"color":"#fff"},{"offset":0.080,"color":"#000"},{"offset":0.087,"color":"#000"},{"offset":0.087,"color":"#fff"},{"offset":0.135,"color":"#fff"},{"offset":0.135,"color":"#000"},{"offset":0.142,"color":"#000"},{"offset":0.142,"color":"#fff"},{"offset":0.191,"color":"#fff"},{"offset":0.191,"color":"#000"},{"offset":0.198,"color":"#000"},{"offset":0.198,"color":"#fff"},{"offset":0.246,"color":"#fff"},{"offset":0.246,"color":"#000"},{"offset":0.254,"color":"#000"},{"offset":0.254,"color":"#fff"},{"offset":0.302,"color":"#fff"},{"offset":0.302,"color":"#000"},{"offset":0.309,"color":"#000"},{"offset":0.309,"color":"#fff"},{"offset":0.358,"color":"#fff"},{"offset":0.358,"color":"#000"},{"offset":0.365,"color":"#000"},{"offset":0.365,"color":"#fff"},{"offset":0.413,"color":"#fff"},{"offset":0.413,"color":"#000"},{"offset":0.420,"color":"#000"},{"offset":0.420,"color":"#fff"},{"offset":0.469,"color":"#fff"},{"offset":0.469,"color":"#000"},{"offset":0.476,"color":"#000"},{"offset":0.476,"color":"#fff"},{"offset":0.524,"color":"#fff"},{"offset":0.524,"color":"#000"},{"offset":0.531,"color":"#000"},{"offset":0.531,"color":"#fff"},{"offset":0.580,"color":"#fff"},{"offset":0.580,"color":"#000"},{"offset":0.587,"color":"#000"},{"offset":0.587,"color":"#fff"},{"offset":0.635,"color":"#fff"},{"offset":0.635,"color":"#000"},{"offset":0.642,"color":"#000"},{"offset":0.642,"color":"#fff"},{"offset":0.691,"color":"#fff"},{"offset":0.691,"color":"#000"},{"offset":0.698,"color":"#000"},{"offset":0.698,"color":"#fff"},{"offset":0.746,"color":"#fff"},{"offset":0.746,"color":"#000"},{"offset":0.754,"color":"#000"},{"offset":0.754,"color":"#fff"},{"offset":0.802,"color":"#fff"},{"offset":0.802,"color":"#000"},{"offset":0.809,"color":"#000"},{"offset":0.809,"color":"#fff"},{"offset":0.858,"color":"#fff"},{"offset":0.858,"color":"#000"},{"offset":0.865,"color":"#000"},{"offset":0.865,"color":"#fff"},{"offset":0.913,"color":"#fff"},{"offset":0.913,"color":"#000"},{"offset":0.920,"color":"#000"},{"offset":0.920,"color":"#fff"},{"offset":0.969,"color":"#fff"},{"offset":0.969,"color":"#000"},{"offset":0.976,"color":"#000"},{"offset":0.976,"color":"#fff"},{"offset":1,"color":"#fff"}]}}
     }},
    {"mark":{"type":"rule","color":"#000","strokeWidth":1.5},
     "encoding":{"y":{"field":"mean","type":"quantitative","scale":{"domain":[0,7.92],"nice":false}},"y2":{"field":"hi"}}},
    {"mark":{"type":"tick","color":"#000","size":6,"thickness":1.5,"orient":"horizontal"},
     "encoding":{"y":{"field":"hi","type":"quantitative","scale":{"domain":[0,7.92],"nice":false}}}},
    {"mark":{"type":"text","fontSize":15,"baseline":"alphabetic","dy":1,"color":"#000"},
     "encoding":{"y":{"field":"hi","type":"quantitative","scale":{"domain":[0,7.92],"nice":false}},"text":{"field":"sig"}}}
   ]},
  {"transform":[{"filter":"datum.cat !== 'n3/n6'"}],
   "mark":{"type":"point","size":0,"opacity":0},
   "encoding":{
    "x":{"field":"cat","type":"nominal","scale":{"domain":["C16:0","C18:0","C18:1n9","C18:1n7","C20:4","C20:5","C22:6"," ","SAFA","MUFA","PUFA","n6","n3","n3 HUFA","n3/n6"],"paddingInner":0.24,"paddingOuter":0.62},"axis":null},
    "xOffset":{"field":"group","type":"nominal","scale":{"domain":["Cold Survivors","Cold Mortalities","Warm Survivors","Warm Mortalities"],"paddingInner":0,"paddingOuter":0}},
    "y":{"field":"mean","type":"quantitative","scale":{"domain":[0,55],"nice":false},"axis":{"orient":"left","values":[5,15,25,35,45],"domain":false,"tickSize":9,"labelPadding":6,"title":null}}
   }},
  {"transform":[{"filter":"datum.cat === 'n3/n6'"}],
   "mark":{"type":"point","size":0,"opacity":0},
   "encoding":{
    "x":{"field":"cat","type":"nominal","scale":{"domain":["C16:0","C18:0","C18:1n9","C18:1n7","C20:4","C20:5","C22:6"," ","SAFA","MUFA","PUFA","n6","n3","n3 HUFA","n3/n6"],"paddingInner":0.24,"paddingOuter":0.62},"axis":null},
    "xOffset":{"field":"group","type":"nominal","scale":{"domain":["Cold Survivors","Cold Mortalities","Warm Survivors","Warm Mortalities"],"paddingInner":0,"paddingOuter":0}},
    "y":{"field":"mean","type":"quantitative","scale":{"domain":[0,7.92],"nice":false},"axis":{"orient":"right","values":[0.5,1.5,2.5,3.5,4.5,5.5,6.5,7.5],"labels":false,"domain":false,"tickSize":5,"title":null}}
   }},
  {"transform":[{"filter":"datum.cat !== 'n3/n6'"}],
   "mark":{"type":"point","size":0,"opacity":0},
   "encoding":{
    "x":{"field":"cat","type":"nominal","scale":{"domain":["C16:0","C18:0","C18:1n9","C18:1n7","C20:4","C20:5","C22:6"," ","SAFA","MUFA","PUFA","n6","n3","n3 HUFA","n3/n6"],"paddingInner":0.24,"paddingOuter":0.62},"axis":null},
    "xOffset":{"field":"group","type":"nominal","scale":{"domain":["Cold Survivors","Cold Mortalities","Warm Survivors","Warm Mortalities"],"paddingInner":0,"paddingOuter":0}},
    "y":{"field":"mean","type":"quantitative","scale":{"domain":[0,55],"nice":false},"axis":{"orient":"left","values":[2.5,7.5,12.5,17.5,22.5,27.5,32.5,37.5,42.5,47.5,52.5],"labels":false,"domain":false,"tickSize":5,"title":null}}
   }}
 ],
 "resolve":{"scale":{"y":"independent"},"axis":{"y":"independent","x":"independent"}}
}
]
}
